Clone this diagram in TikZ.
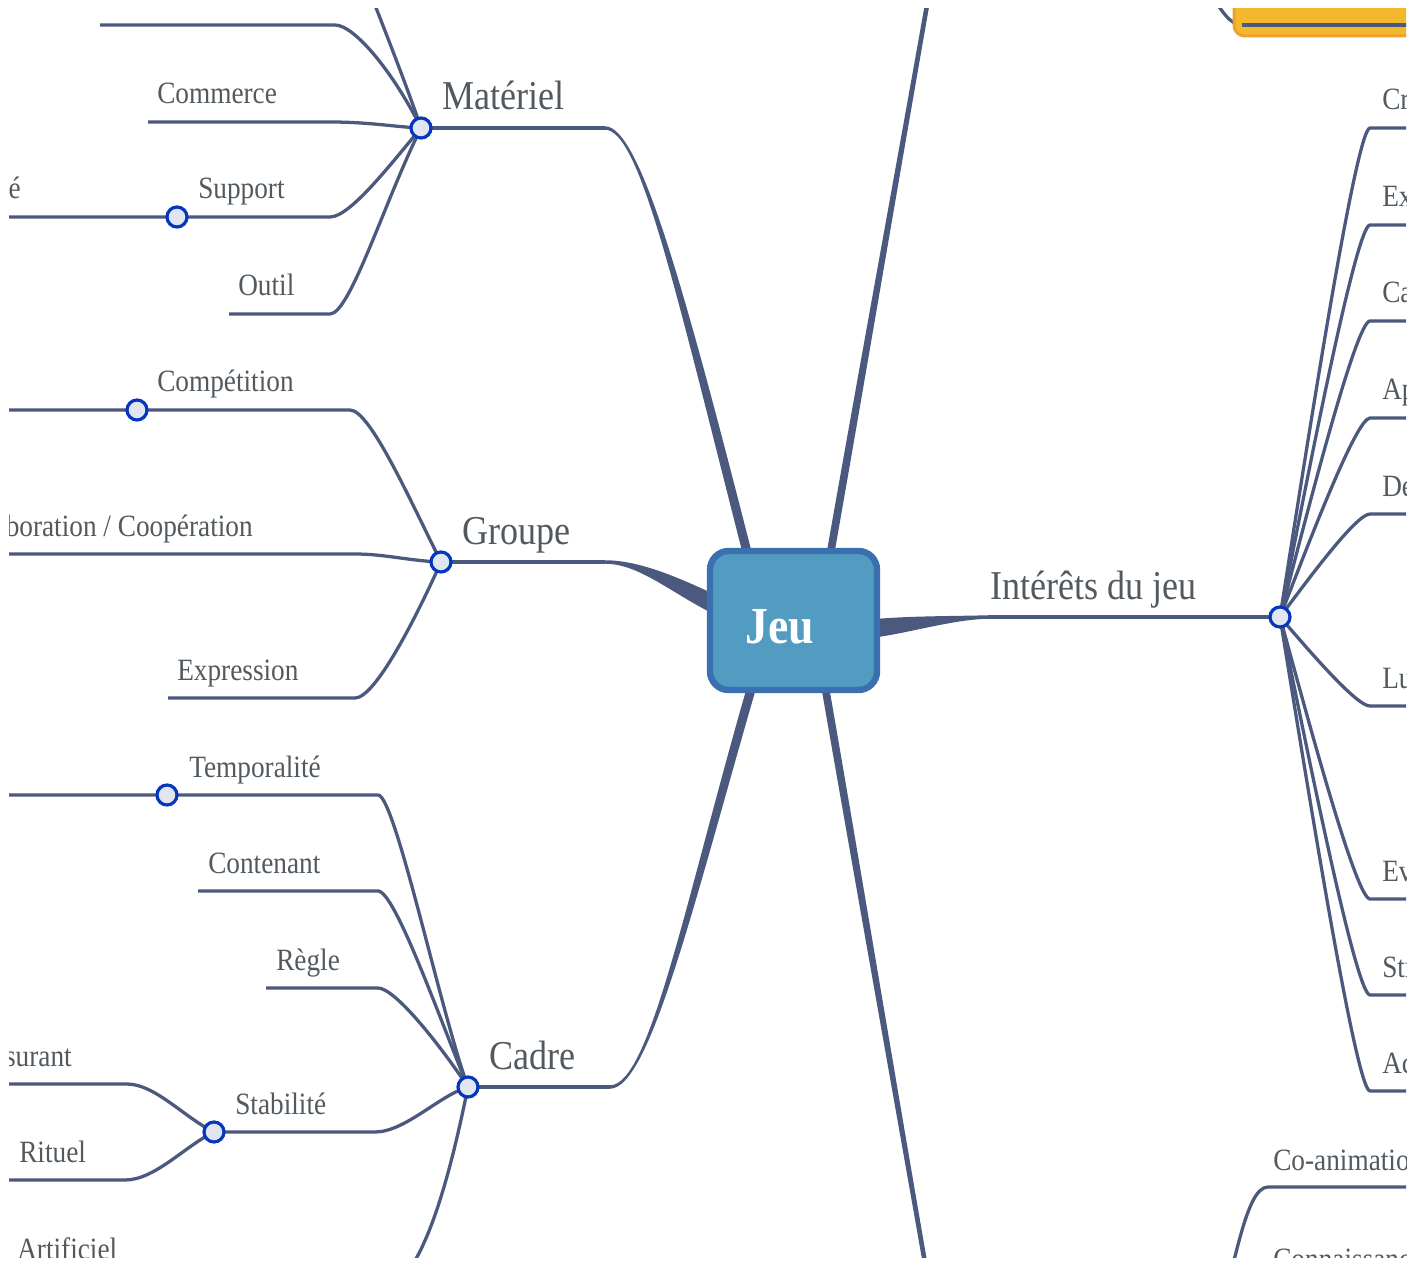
\documentclass[tikz,border=0pt]{standalone}
\usepackage{fontspec}
\setmainfont{Liberation Serif}[FakeStretch=0.88]
\usetikzlibrary{calc}
\definecolor{brc}{RGB}{74,89,125}
\definecolor{txtc}{RGB}{82,90,96}
\definecolor{dotfill}{RGB}{225,229,240}
\definecolor{dotdraw}{RGB}{5,55,190}
\definecolor{jeufill}{RGB}{81,156,192}
\definecolor{jeudraw}{RGB}{58,112,176}
\definecolor{yelfill}{RGB}{244,184,44}
\definecolor{yeldraw}{RGB}{240,160,45}
\tikzset{
 br/.style={draw=brc, line width=2.45pt},
 brmain/.style={draw=brc, line width=2.6pt},
 dot/.style={circle, fill=dotfill, draw=dotdraw, line width=2.4pt, minimum size=15pt, inner sep=0pt},
 lab/.style={text=txtc, inner sep=0pt, anchor=base west, font=\fontsize{23.25}{27}\selectfont},
 labr/.style={lab, anchor=base east},
 mainlab/.style={text=txtc, inner sep=0pt, anchor=base west, font=\fontsize{30.75}{35}\selectfont},
 rootbox/.style={rectangle, rounded corners=14pt, fill=jeufill, draw=jeudraw, line width=4.8pt, minimum width=125.25pt, minimum height=104.25pt, inner sep=0pt},
 roottext/.style={text=white, inner sep=0pt, anchor=base, font=\bfseries\fontsize{39}{44}\selectfont}
}
\newcommand\taper[6]{%
  \fill[brc] ($(#1)!#5!90:(#2)$)
    .. controls ($(#2)+($(#1)!#5!90:(#2)$)-(#1)$) and ($(#3)+($(#4)!#6!-90:(#3)$)-(#4)$)
    .. ($(#4)!#6!-90:(#3)$)
    -- ($(#4)!#6!90:(#3)$)
    .. controls ($(#3)+($(#4)!#6!90:(#3)$)-(#4)$) and ($(#2)+($(#1)!#5!-90:(#2)$)-(#1)$)
    .. ($(#1)!#5!-90:(#2)$) -- cycle;}
\begin{document}
\begin{tikzpicture}[x=0.75pt,y=-0.75pt]
\fill[white] (0,0) rectangle (1424,1262);
\useasboundingbox (0,0) rectangle (1424,1262);
\begin{scope}
\clip (9,9) rectangle (1406,1257);

% hub coordinates
\coordinate (cM) at (421,128);
\coordinate (cG) at (441,562);
\coordinate (cC) at (468,1087);
\coordinate (cI) at (1280,617);
\coordinate (cS) at (214,1132);
\coordinate (cS1) at (177,217);
\coordinate (cS2) at (137,410);
\coordinate (cS3) at (167,795);

% ---- main branches ----
\coordinate (m0) at (748,556); \coordinate (m1) at (680,290);
\coordinate (m2) at (640,128); \coordinate (m3) at (605,128);
\taper{m0}{m1}{m2}{m3}{3.4pt}{1.3pt}
\draw[brmain] (m3) -- (cM);

\coordinate (g0) at (722,608); \coordinate (g1) at (676,586);
\coordinate (g2) at (640,562); \coordinate (g3) at (605,562);
\taper{g0}{g1}{g2}{g3}{6.8pt}{1.3pt}
\draw[brmain] (g3) -- (cG);

\coordinate (i0) at (868,629); \coordinate (i1) at (905,625);
\coordinate (i2) at (950,618); \coordinate (i3) at (988,617);
\taper{i0}{i1}{i2}{i3}{6.9pt}{1.3pt}
\draw[brmain] (i3) -- (cI);

\coordinate (c0) at (752,686); \coordinate (c1) at (690,900);
\coordinate (c2) at (650,1087); \coordinate (c3) at (610,1087);
\taper{c0}{c1}{c2}{c3}{3.4pt}{1.3pt}
\draw[brmain] (c3) -- (cC);

\coordinate (u0) at (830,556); \coordinate (u1) at (865,357);
\coordinate (u2) at (900,158); \coordinate (u3) at (935,-40);
\taper{u0}{u1}{u2}{u3}{2.9pt}{1.7pt}

\coordinate (d0) at (825,686); \coordinate (d1) at (862,899);
\coordinate (d2) at (898,1109); \coordinate (d3) at (935,1320);
\taper{d0}{d1}{d2}{d3}{2.9pt}{1.7pt}

% ---- Matériel ----
\coordinate (mtL) at (100,25); \coordinate (mt) at (335,25);
\draw[br] (mtL) -- (mt) .. controls (355,25) and (395,75) .. (cM);
\coordinate (mU) at (365,-20);
\draw[br] (cM) .. controls (410,95) and (385,30) .. (mU);
\coordinate (mcL) at (148,122); \coordinate (mc) at (330,122);
\draw[br] (mcL) -- (mc) .. controls (370,122) and (395,127) .. (cM);
\coordinate (msL) at (0,217); \coordinate (ms) at (330,217);
\draw[br] (msL) -- (cS1) -- (ms) .. controls (350,217) and (390,165) .. (cM);
\coordinate (moL) at (229,314); \coordinate (mo) at (330,314);
\draw[br] (moL) -- (mo) .. controls (350,314) and (385,200) .. (cM);

% ---- Groupe ----
\coordinate (gcL) at (0,410); \coordinate (gc) at (350,410);
\draw[br] (gcL) -- (cS2) -- (gc) .. controls (370,410) and (410,500) .. (cG);
\coordinate (gkL) at (0,554); \coordinate (gk) at (355,554);
\draw[br] (gkL) -- (gk) .. controls (385,554) and (410,561) .. (cG);
\coordinate (geL) at (168,698); \coordinate (ge) at (355,698);
\draw[br] (geL) -- (ge) .. controls (375,698) and (415,620) .. (cG);

% ---- Cadre ----
\coordinate (ctL) at (0,795); \coordinate (ct) at (378,795);
\draw[br] (ctL) -- (cS3) -- (ct) .. controls (395,795) and (440,1010) .. (cC);
\coordinate (cnL) at (198,891); \coordinate (cn) at (378,891);
\draw[br] (cnL) -- (cn) .. controls (395,891) and (440,1020) .. (cC);
\coordinate (crL) at (266,988); \coordinate (cr) at (378,988);
\draw[br] (crL) -- (cr) .. controls (395,988) and (440,1045) .. (cC);
\coordinate (cs) at (375,1132);
\draw[br] (cS) -- (cs) .. controls (405,1132) and (440,1095) .. (cC);
\coordinate (ca) at (380,1290); \coordinate (caL) at (0,1290);
\draw[br] (cC) .. controls (455,1150) and (425,1290) .. (ca) -- (caL);
\coordinate (srL) at (0,1084); \coordinate (sr) at (127,1084);
\draw[br] (srL) -- (sr) .. controls (155,1084) and (185,1118) .. (cS);
\coordinate (sdL) at (0,1180); \coordinate (sd) at (125,1180);
\draw[br] (sdL) -- (sd) .. controls (155,1180) and (185,1146) .. (cS);

% ---- Intérêts du jeu ----
\foreach \yy/\nm [count=\k] in {128/Créativité, 225/Expression, 321/Capacités, 418/Apprentissage, 514/Découverte, 706/Ludique, 899/Evolution, 995/Stratégie, 1091/Action}{
  \coordinate (r\k) at (1370,\yy);
  \coordinate (rR\k) at (1430,\yy);
  \draw[br] (cI) .. controls (1307,{617-0.35*(617-\yy)}) and (1356,\yy) .. (r\k) -- (rR\k);
  \node[lab] (rl\k) at (1382,{\yy-18}) {\nm};
}

% ---- bottom right ----
\coordinate (coB) at (1215,1330); \coordinate (co) at (1268,1187); \coordinate (coR) at (1430,1187);
\draw[br] (coB) .. controls (1235,1270) and (1245,1187) .. (co) -- (coR);
\node[lab] (coanim) at (1273,1170) {Co-animation};
\node[lab] (conn) at (1273,1269) {Connaissance};

% ---- top right (yellow) ----
\coordinate (yk0) at (1205,-15); \coordinate (yk) at (1242,25); \coordinate (ykR) at (1430,25);
\draw[br] (yk0) .. controls (1222,12) and (1230,25) .. (yk);
\draw[fill=yelfill, draw=yeldraw, line width=2.25pt, rounded corners=8pt] (1234,-40) rectangle (1450,36);
\draw[br] (yk) -- (ykR);

% ---- dots ----
\node[dot] (M) at (cM) {};
\node[dot] (G) at (cG) {};
\node[dot] (C) at (cC) {};
\node[dot] (I) at (cI) {};
\node[dot] (S) at (cS) {};
\node[dot] (S1) at (cS1) {};
\node[dot] (S2) at (cS2) {};
\node[dot] (S3) at (cS3) {};

% ---- labels ----
\node[mainlab] (lM) at (442,110) {Matériel};
\node[mainlab] (lG) at (462,544) {Groupe};
\node[mainlab] (lC) at (489,1069) {Cadre};
\node[mainlab] (lI) at (990,599) {Intérêts du jeu};

\node[lab] (lcom) at (157,104) {Commerce};
\node[lab] (lsup) at (198,199) {Support};
\node[labr] (lsupc) at (21,199) {é};
\node[lab] (lout) at (238,296) {Outil};

\node[lab] (lcomp) at (157,392) {Compétition};
\node[labr] (lcoll) at (253,536) {Collaboration / Coopération};
\node[lab] (lexp) at (177,680) {Expression};

\node[lab] (ltemp) at (189,777) {Temporalité};
\node[lab] (lcont) at (208,873) {Contenant};
\node[lab] (lreg) at (276,970) {Règle};
\node[lab] (lstab) at (235,1114) {Stabilité};
\node[labr] (lras) at (72,1066) {Rassurant};
\node[lab] (lrit) at (19,1162) {Rituel};
\node[lab] (lart) at (17,1259) {Artificiel};

% ---- root ----
\node[rootbox] (jeu) at (793.5,620.5) {};
\node[roottext] (jeut) at (780,643) {Jeu};
\end{scope}
\end{tikzpicture}
\end{document}
